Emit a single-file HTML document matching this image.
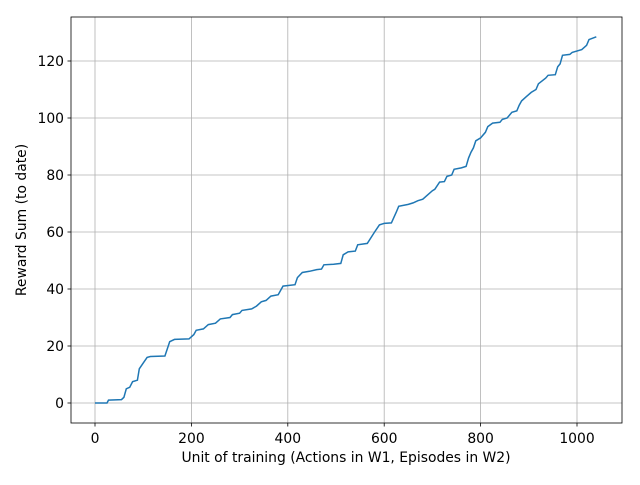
<!DOCTYPE html>
<html><head><meta charset="utf-8"><style>
body{margin:0;background:#fff}
svg text{font-family:"DejaVu Sans","Liberation Sans",sans-serif;font-size:13.9px;fill:#000}
</style></head><body>
<svg id="chart" width="640" height="480">
<rect x="0" y="0" width="640" height="480" fill="#fff"/>
<g id="grid"></g>
<g id="ticks"></g>
<path id="line" fill="none" stroke="#1f77b4" stroke-width="1.5"/>
<rect x="71" y="17" width="551" height="406" fill="none" stroke="#000" stroke-width="0.8"/>
<text x="346" y="462" text-anchor="middle">Unit of training (Actions in W1, Episodes in W2)</text>
<text transform="translate(26,220) rotate(-90)" text-anchor="middle">Reward Sum (to date)</text>
</svg>
<script>
const xTicks=[0,200,400,600,800,1000];
const yTicks=[0,20,40,60,80,100,120];
const xs=[0,25,28,55,60,65,72,78,88,92,100,108,115,145,150,155,165,195,205,210,225,235,250,260,280,285,300,305,325,335,345,355,365,380,390,415,420,430,445,460,470,475,495,510,515,525,540,545,565,580,590,600,615,625,630,650,660,670,680,690,700,705,715,725,730,740,745,760,770,775,780,785,790,800,810,815,825,840,845,855,865,875,880,885,895,905,915,920,935,940,955,960,965,970,985,990,1010,1020,1025,1040];
const ys=[0,0,1,1.2,2,5,5.5,7.5,8,12,14,16,16.3,16.5,19,21.5,22.3,22.5,24,25.5,26,27.5,28,29.5,30,31,31.5,32.5,33,34,35.5,36,37.5,38,41,41.5,44,45.8,46.2,46.8,47,48.5,48.7,49,52,53,53.3,55.5,56,60,62.5,63,63.2,67,69,69.7,70.2,71,71.5,73,74.5,75,77.5,77.7,79.5,80,82,82.5,83,86,88,89.5,92,93,95,97,98.2,98.5,99.5,100,102,102.5,104.5,106,107.5,109,110,112,114,115,115.2,118,119,122,122.3,123,124,125.5,127.5,128.5];
const X=v=>95+v*(577-95)/1000;
const Y=v=>403-v*(403-61)/120;
const ns="http://www.w3.org/2000/svg";
const grid=document.getElementById('grid'),ticks=document.getElementById('ticks');
function mk(t,a,p){const e=document.createElementNS(ns,t);for(const k in a)e.setAttribute(k,a[k]);p.appendChild(e);return e;}
xTicks.forEach(v=>{const x=X(v);
 const g=mk('line',{x1:x,x2:x,y1:17,y2:423,stroke:'#b0b0b0','stroke-width':0.8},grid);
 
 
 mk('line',{x1:x,x2:x,y1:423,y2:426.5,stroke:'#000','stroke-width':0.8},ticks);
 const t=mk('text',{x:x,y:443,'text-anchor':'middle'},ticks);t.textContent=v;
 
 });
yTicks.forEach(v=>{const y=Y(v);
 const g=mk('line',{x1:71,x2:622,y1:y,y2:y,stroke:'#b0b0b0','stroke-width':0.8},grid);
 
 
 mk('line',{x1:67.5,x2:71,y1:y,y2:y,stroke:'#000','stroke-width':0.8},ticks);
 const t=mk('text',{x:64,y:y+5,'text-anchor':'end'},ticks);t.textContent=v;
 
 });
document.getElementById('line').setAttribute('d',xs.map((v,i)=>(i?'L':'M')+X(v).toFixed(1)+','+Y(ys[i]).toFixed(1)).join(''));
</script>
</body></html>
